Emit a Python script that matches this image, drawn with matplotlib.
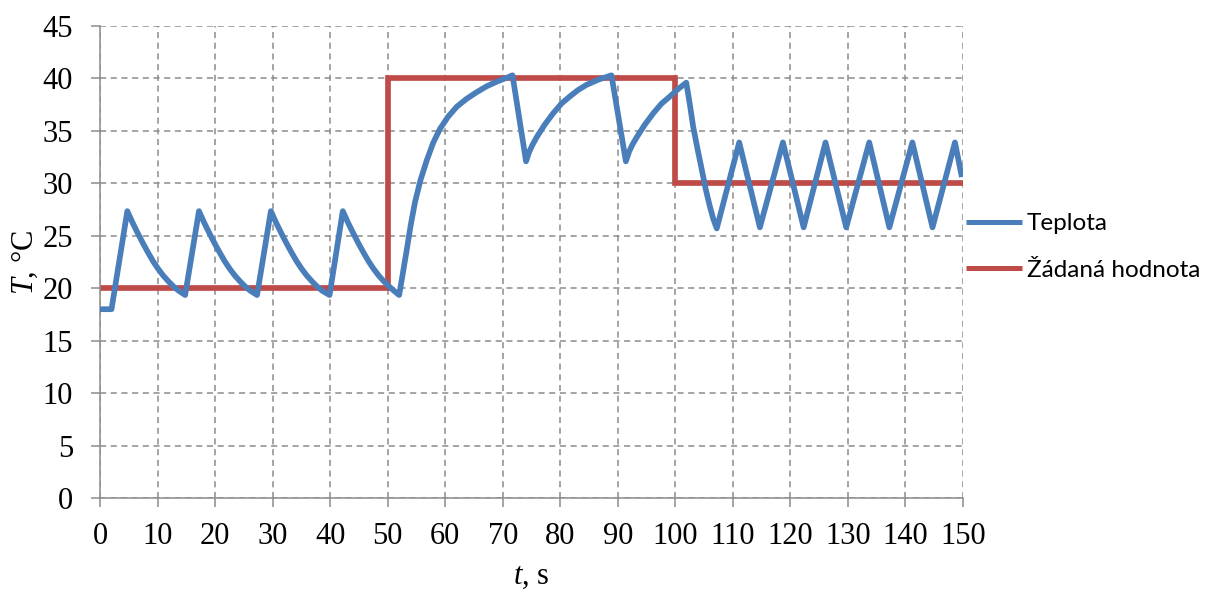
import numpy as np
import matplotlib
matplotlib.use("Agg")
import matplotlib.pyplot as plt

# Teplota (temperature)
t_temp = [0, 2.0, 4.75, 5.7, 6.65, 7.5, 8.4, 9.25, 10.1, 11.0, 11.9, 12.8, 13.7, 14.8,
          17.2, 18.15, 19.1, 19.95, 20.85, 21.7, 22.55, 23.45, 24.35, 25.25, 26.15, 27.3,
          29.7, 30.65, 31.6, 32.45, 33.35, 34.2, 35.05, 35.95, 36.85, 37.75, 38.65, 39.9,
          42.2, 43.15, 44.1, 44.95, 45.85, 46.7, 47.55, 48.45, 49.35, 50.2, 51.0, 52.0,
          52.6, 53.3, 54.0, 54.75, 55.7, 56.8, 57.9, 59.1, 60.5, 62.0, 63.7, 65.5,
          67.2, 69.0, 70.4, 71.7,
          74.05, 74.6, 75.2, 75.9, 77.3, 78.8, 80.2, 81.7, 83.1, 84.6, 86.7, 88.9,
          91.4, 91.95, 92.55, 93.3, 94.7, 96.2, 97.6, 99.1, 100.5, 101.9,
          102.5, 103.1, 103.85, 104.6, 105.3, 106.0, 106.6, 107.2,
          111.1, 114.7, 118.7, 122.3, 126.1, 129.7, 133.7, 137.2,
          141.2, 144.7, 148.6, 149.8]
T_temp = [18.0, 18.0, 27.35, 26.2, 25.15, 24.25, 23.35, 22.55, 21.85, 21.2, 20.65, 20.15, 19.75, 19.35,
          27.35, 26.2, 25.15, 24.25, 23.35, 22.55, 21.85, 21.2, 20.65, 20.15, 19.75, 19.35,
          27.35, 26.2, 25.15, 24.25, 23.35, 22.55, 21.85, 21.2, 20.65, 20.15, 19.75, 19.35,
          27.35, 26.2, 25.15, 24.25, 23.35, 22.55, 21.85, 21.2, 20.65, 20.2, 19.8, 19.35,
          21.3, 23.6, 26.0, 28.2, 30.3, 32.2, 33.85, 35.2, 36.35, 37.3, 38.05, 38.7,
          39.25, 39.7, 40.0, 40.3,
          32.1, 33.0, 33.7, 34.4, 35.6, 36.7, 37.6, 38.3, 38.9, 39.4, 39.9, 40.3,
          32.1, 33.0, 33.7, 34.4, 35.6, 36.7, 37.6, 38.3, 39.0, 39.6,
          37.6, 35.4, 33.3, 31.3, 29.4, 27.8, 26.6, 25.7,
          33.9, 25.8, 33.9, 25.8, 33.9, 25.8, 33.9, 25.8,
          33.9, 25.8, 33.9, 30.6]

# Žádaná hodnota (setpoint)
t_set = [0, 50, 50, 100, 100, 150]
T_set = [20, 20, 40, 40, 30, 30]

x_ticks = list(range(0, 151, 10))
y_ticks = list(range(0, 46, 5))

plt.rcParams["font.family"] = ["Liberation Serif", "DejaVu Serif"]
plt.rcParams["mathtext.fontset"] = "custom"
plt.rcParams["mathtext.it"] = "Liberation Serif:italic"
plt.rcParams["mathtext.rm"] = "Liberation Serif"

fig = plt.figure(figsize=(12.16, 5.95), dpi=100)
ax = fig.add_axes([100 / 1216, 97 / 595, 863 / 1216, 472 / 595])

ax.plot(t_temp, T_temp, color="#4A7EBB", lw=4.1, solid_joinstyle="round",
        solid_capstyle="butt", label="Teplota", zorder=3)
ax.plot(t_set, T_set, color="#BE4B48", lw=4.1, solid_joinstyle="miter",
        solid_capstyle="butt", label="Žádaná hodnota", zorder=2)

ax.set_xlim(0, 150)
ax.set_ylim(0, 45)
ax.set_xticks(x_ticks)
ax.set_yticks(y_ticks)
ax.tick_params(axis="both", labelsize=22, direction="out", length=6.5,
               width=1.1, color="#8c8c8c")
ax.tick_params(axis="x", pad=11)
ax.tick_params(axis="y", pad=13)
ax.grid(True, ls=(0, (4, 3)), color="#8c8c8c", lw=1.1)
ax.set_axisbelow(True)
for s in ("top", "right"):
    ax.spines[s].set_visible(False)
for s in ("left", "bottom"):
    ax.spines[s].set_color("#8c8c8c")
    ax.spines[s].set_linewidth(1.1)

ax.set_xlabel(r"$\mathit{t}$, s", fontsize=22, labelpad=8)
ax.set_ylabel(r"$\mathit{T}$, °C", fontsize=22, labelpad=2)

leg = ax.legend(loc="center left", bbox_to_anchor=(0.992, 0.532), frameon=False,
                prop={"family": ["Lato", "DejaVu Sans"], "size": 17.5},
                handlelength=2.3, handletextpad=0.2, labelspacing=1.05,
                borderaxespad=0.0)
for h in leg.get_lines():
    h.set_linewidth(3.6)

fig.savefig("out.png", dpi=100, facecolor="white")
